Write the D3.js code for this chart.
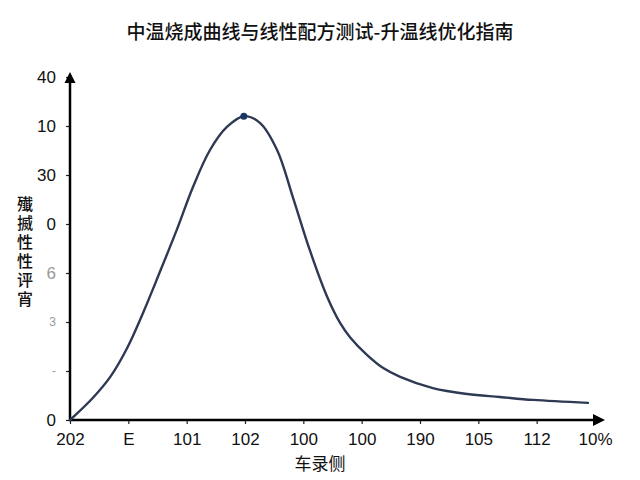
<!DOCTYPE html>
<html>
<head>
<meta charset="utf-8">
<script src="https://cdn.jsdelivr.net/npm/d3@7"></script>
<style>
  body { margin: 0; background: #fff; }
  svg { display: block; font-family: "Liberation Sans", "Noto Sans CJK SC", sans-serif; }
</style>
</head>
<body>
<div id="chart"></div>
<script>
const title = "中温烧成曲线与线性配方测试-升温线优化指南";
const xTitle = "车录侧";
const yTitle = "殱揻性性评宵";

const xLabels = ["202", "E", "101", "102", "100", "100", "190", "105", "112", "10%"];
const yLabels = ["0", "-", "3", "6", "0", "30", "10", "40"];

// curve, x in category steps, y in tick steps
const curveX = [0, 0.39, 0.69, 0.98, 1.25, 1.54, 1.83, 2.11, 2.40, 2.69, 2.98, 3.26, 3.55, 3.82, 4.11, 4.41, 4.63, 4.80, 5.09, 5.37, 5.66, 6.22, 6.81, 7.37, 7.94, 8.88];
const curveY = [0, 0.45, 0.88, 1.47, 2.18, 3.02, 3.88, 4.76, 5.51, 5.98, 6.20, 6.06, 5.51, 4.55, 3.47, 2.51, 1.98, 1.69, 1.33, 1.06, 0.88, 0.65, 0.53, 0.47, 0.41, 0.35];
const peakIndex = 10;

const width = 640, height = 480;
const margin = { top: 77, right: 45, bottom: 60, left: 70 };

const svg = d3.select("#chart")
  .append("svg")
  .attr("width", width)
  .attr("height", height);

const x = d3.scaleLinear()
  .domain([0, xLabels.length - 1])
  .range([margin.left, width - margin.right]);

const y = d3.scaleLinear()
  .domain([0, yLabels.length - 1])
  .range([height - margin.bottom, margin.top]);

const data = curveX.map((d, i) => ({ x: d, y: curveY[i] }));

svg.append("text")
  .attr("x", width / 2)
  .attr("y", 39)
  .attr("text-anchor", "middle")
  .style("font-family", "'Noto Sans CJK SC', sans-serif")
  .style("font-size", "19px")
  .style("font-weight", "500")
  .attr("fill", "#111")
  .text(title);

// y axis
const yAxis = svg.append("g")
  .attr("transform", "translate(" + margin.left + ",0)")
  .call(d3.axisLeft(y).tickValues(d3.range(yLabels.length)).tickFormat(i => yLabels[i]).tickSize(4).tickPadding(10));
yAxis.select(".domain").remove();
yAxis.selectAll(".tick line").attr("stroke", "#222").attr("stroke-width", 1.2);
yAxis.selectAll(".tick text")
  .attr("fill", (d, i) => (i >= 1 && i <= 3) ? "#999" : "#111")
  .style("font-size", (d, i) => (i === 1 || i === 2) ? "12px" : "17px");

// x axis
const xAxis = svg.append("g")
  .attr("transform", "translate(0," + y(0) + ")")
  .call(d3.axisBottom(x).tickValues(d3.range(xLabels.length)).tickFormat(i => xLabels[i]).tickSize(4).tickPadding(9));
xAxis.select(".domain").remove();
xAxis.selectAll(".tick line").attr("stroke", "#222").attr("stroke-width", 1.2);
xAxis.selectAll(".tick text").style("font-size", "17px").attr("fill", "#111");

// axis lines with arrow heads
const x0 = x(0), y0 = y(0);
const yTop = y(yLabels.length - 1) - 5;
const xEnd = x(xLabels.length - 1) + 10;

svg.append("line")
  .attr("x1", x0).attr("y1", y0 + 1)
  .attr("x2", x0).attr("y2", yTop + 8)
  .attr("stroke", "#000").attr("stroke-width", 2.5);
svg.append("path")
  .attr("d", `M${x0},${yTop} L${x0 - 5.5},${yTop + 11} L${x0 + 5.5},${yTop + 11} Z`)
  .attr("fill", "#000");

svg.append("line")
  .attr("x1", x0 - 1).attr("y1", y0)
  .attr("x2", xEnd - 8).attr("y2", y0)
  .attr("stroke", "#000").attr("stroke-width", 2.5);
svg.append("path")
  .attr("d", `M${xEnd},${y0} L${xEnd - 12},${y0 - 6} L${xEnd - 12},${y0 + 6} Z`)
  .attr("fill", "#000");

// axis titles
svg.append("text")
  .attr("x", width / 2)
  .attr("y", 469.5)
  .attr("text-anchor", "middle")
  .style("font-family", "'Noto Sans CJK SC', sans-serif")
  .style("font-size", "17px")
  .attr("fill", "#111")
  .text(xTitle);

svg.append("text")
  .attr("x", 25)
  .attr("y", 196)
  .style("writing-mode", "vertical-rl")
  .style("text-orientation", "upright")
  .style("letter-spacing", "3px")
  .style("font-family", "'Noto Sans CJK SC', sans-serif")
  .style("font-size", "16px")
  .style("font-weight", "500")
  .attr("fill", "#111")
  .text(yTitle);

// curve
const line = d3.line()
  .x(d => x(d.x))
  .y(d => y(d.y))
  .curve(d3.curveCatmullRom.alpha(0.5));

svg.append("path")
  .datum(data)
  .attr("d", line)
  .attr("fill", "none")
  .attr("stroke", "#2e3954")
  .attr("stroke-width", 2.4)
  .attr("stroke-linecap", "round");

svg.append("circle")
  .attr("cx", x(data[peakIndex].x))
  .attr("cy", y(data[peakIndex].y))
  .attr("r", 3.5)
  .attr("fill", "#1c3566");
</script>
</body>
</html>
